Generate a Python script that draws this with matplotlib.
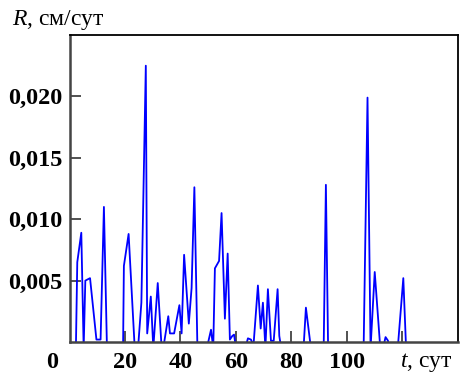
import matplotlib
matplotlib.use("Agg")
import matplotlib.pyplot as plt

# days and rate values (negative = below axis, clipped)
t = [2.3, 2.8, 4.25, 5.1, 5.7, 7.4, 9.7, 11.2, 12.4, 13.5,
     19.3, 19.6, 21.3, 23.5, 24.7, 25.9, 27.5, 28.0, 29.3, 30.2,
     31.8, 33.2, 33.8, 35.6, 36.2, 37.7, 39.6, 40.4, 41.3, 43.0,
     44.0, 45.0, 46.1, 49.7, 51.0, 51.8, 52.4, 53.9, 54.8, 56.0,
     57.0, 57.8, 58.7, 59.3, 60.0, 63.6, 64.3, 65.4, 66.3, 67.9,
     68.9, 69.7, 70.6, 71.5, 72.6, 73.6, 75.0, 75.6, 76.3, 84.4,
     85.2, 87.0, 91.6, 92.4, 93.2, 106.0, 107.4, 108.5, 110.0, 112.0,
     113.3, 113.9, 114.8, 115.1, 118.3, 120.3, 121.3]
R = [-0.0005, 0.0065, 0.0089, -0.0005, 0.0050, 0.0052, 0.0002, 0.0002, 0.0110, -0.0005,
     -0.0005, 0.0062, 0.0088, -0.0005, -0.0005, 0.0032, 0.0225, 0.0007, 0.0037, -0.0005,
     0.0048, -0.0005, -0.0005, 0.0021, 0.0007, 0.0007, 0.0030, 0.0007, 0.0071, 0.0015,
     0.0044, 0.0126, -0.0005, -0.0003, 0.0010, -0.0005, 0.0060, 0.0066, 0.0105, 0.0019,
     0.0072, 0.0002, 0.0005, 0.0006, -0.0005, -0.0003, 0.0003, 0.0002, -0.0003, 0.0046,
     0.0011, 0.0032, -0.0005, 0.0043, 0.0001, 0.0001, 0.0043, 0.0005, -0.0005, -0.0003,
     0.0028, -0.0005, -0.0005, 0.0128, -0.0005, -0.0005, 0.0199, -0.0005, 0.0057, -0.0005,
     -0.0002, 0.0004, 0.0001, -0.0005, -0.0005, 0.0052, -0.0005]

xticks = [20, 40, 60, 80, 100, 120]
xlabels = ["20", "40", "60", "80", "100", ""]
yticks = [0.005, 0.010, 0.015, 0.020]
ylabels = ["0,005", "0,010", "0,015", "0,020"]

plt.rcParams["font.family"] = ["Liberation Serif", "DejaVu Serif"]
plt.rcParams["mathtext.fontset"] = "custom"
plt.rcParams["mathtext.rm"] = "Liberation Serif"
plt.rcParams["mathtext.it"] = "Liberation Serif:italic"

fig = plt.figure(figsize=(4.64, 3.79), dpi=100)
ax = fig.add_axes([0.1498, 0.0976, 0.8372, 0.8101])

ax.plot(t, R, color="#0000ff", linewidth=1.3)
ax.set_xlim(0, 140)
ax.set_ylim(0, 0.025)

ax.set_xticks(xticks)
ax.set_xticklabels(xlabels, fontsize=17.5, fontweight="bold")
ax.set_yticks(yticks)
ax.set_yticklabels(ylabels, fontsize=17.5, fontweight="bold")
ax.tick_params(axis="both", direction="in", length=8, width=1.2, colors="#333333",
               labelcolor="black")
ax.tick_params(axis="x", pad=7)
ax.tick_params(axis="y", pad=5)

for side in ["left", "bottom"]:
    ax.spines[side].set_color("#444444")
    ax.spines[side].set_linewidth(1.8)
for side in ["top", "right"]:
    ax.spines[side].set_color("black")
    ax.spines[side].set_linewidth(1.3)

fig.text(52 / 464, 1 - 362 / 379, "0", fontsize=17.5, fontweight="bold",
         ha="center", va="center")
fig.text(12 / 464, 1 - 20 / 379, r"$\it{R}$, см/сут", fontsize=17,
         ha="left", va="center")
fig.text(400 / 464, 1 - 363 / 379, r"$\it{t}$, сут", fontsize=17,
         ha="left", va="center")

fig.savefig("out.png", dpi=100)
